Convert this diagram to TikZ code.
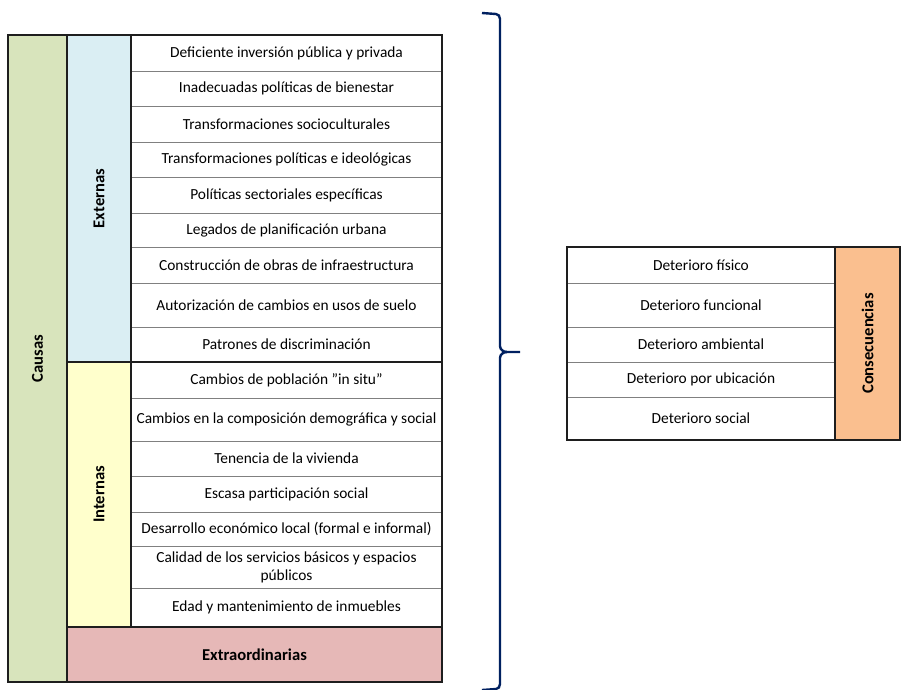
\documentclass[tikz,border=0pt]{standalone}
\usepackage{fontspec}
\setmainfont{Carlito}
\usetikzlibrary{positioning}
\definecolor{ink}{RGB}{30,30,30}
\definecolor{grid}{RGB}{128,128,128}
\definecolor{navy}{RGB}{0,32,96}
\definecolor{causa}{RGB}{216,228,188}
\definecolor{externa}{RGB}{218,238,243}
\definecolor{interna}{RGB}{255,255,204}
\definecolor{extra}{RGB}{230,184,183}
\definecolor{conse}{RGB}{250,191,143}

\begin{document}
\begin{tikzpicture}[x=1pt,y=-1pt,
  row/.style={draw=grid,line width=0.8pt,fill=white,minimum width=311pt,
     inner sep=0pt,outer sep=0pt,align=center,
     font=\fontsize{15.4}{18}\selectfont},
  drow/.style={row,minimum width=268pt},
  group/.style={draw=ink,line width=1.5pt,inner sep=0pt,outer sep=0pt,
     font=\fontsize{16.6}{19}\selectfont\bfseries},
  frame/.style={draw=ink,line width=1.5pt},
  brace/.style={draw=navy,line width=2.4pt}]
\useasboundingbox (0,0) rectangle (902,690);
% causas
\node[row,minimum height=36] (r1) at (286.5,53) {Deficiente inversión pública y privada};
\node[row,minimum height=35,below=0pt of r1] (r2) {Inadecuadas políticas de bienestar};
\node[row,minimum height=36,below=0pt of r2] (r3) {Transformaciones socioculturales};
\node[row,minimum height=35,below=0pt of r3] (r4) {Transformaciones políticas e ideológicas};
\node[row,minimum height=36,below=0pt of r4] (r5) {Políticas sectoriales específicas};
\node[row,minimum height=34,below=0pt of r5] (r6) {Legados de planificación urbana};
\node[row,minimum height=36,below=0pt of r6] (r7) {Construcción de obras de infraestructura};
\node[row,minimum height=44,below=0pt of r7] (r8) {Autorización de cambios en usos de suelo};
\node[row,minimum height=35,below=0pt of r8] (r9) {Patrones de discriminación};
\node[row,minimum height=36,below=0pt of r9] (r10) {Cambios de población ”in situ”};
\node[row,minimum height=43,below=0pt of r10] (r11) {Cambios en la composición demográfica y social};
\node[row,minimum height=35,below=0pt of r11] (r12) {Tenencia de la vivienda};
\node[row,minimum height=36,below=0pt of r12] (r13) {Escasa participación social};
\node[row,minimum height=34,below=0pt of r13] (r14) {Desarrollo económico local (formal e informal)};
\node[row,minimum height=42,below=0pt of r14] (r15) {Calidad de los servicios básicos y espacios\\públicos};
\node[row,minimum height=39,below=0pt of r15] (r16) {Edad y mantenimiento de inmuebles};
\draw[frame] (r1.north west) rectangle (r9.south east);
\draw[frame] (r10.north west) rectangle (r16.south east);
\node[group,fill=externa,rotate=90,minimum width=327pt,minimum height=64pt] (ext) at (99,198.5) {Externas};
\node[group,fill=interna,rotate=90,minimum width=265pt,minimum height=64pt] (int) at (99,494.5) {Internas};
\node[group,fill=extra,minimum width=375pt,minimum height=55pt] (xtra) at (254.5,654.5) {Extraordinarias};
\node[group,fill=causa,rotate=90,minimum width=647pt,minimum height=59pt] (causas) at (37.5,358.5) {Causas};
% llave
\draw[brace] (482,13) -- (496,14) to[out=0,in=90] (500,19) -- (500,346)
  to[out=-90,in=180] (507,352) -- (520,352);
\draw[brace] (507,352) to[out=180,in=90] (500,358) -- (500,684)
  to[out=-90,in=0] (496,689) -- (482,690);
% consecuencias
\node[drow,minimum height=36] (d1) at (701,265) {Deterioro físico};
\node[drow,minimum height=44,below=0pt of d1] (d2) {Deterioro funcional};
\node[drow,minimum height=35,below=0pt of d2] (d3) {Deterioro ambiental};
\node[drow,minimum height=35,below=0pt of d3] (d4) {Deterioro por ubicación};
\node[drow,minimum height=43,below=0pt of d4] (d5) {Deterioro social};
\draw[frame] (d1.north west) rectangle (d5.south east);
\node[group,fill=conse,rotate=90,minimum width=193pt,minimum height=65pt] (cons) at (867.5,343.5) {Consecuencias};
\end{tikzpicture}
\end{document}
